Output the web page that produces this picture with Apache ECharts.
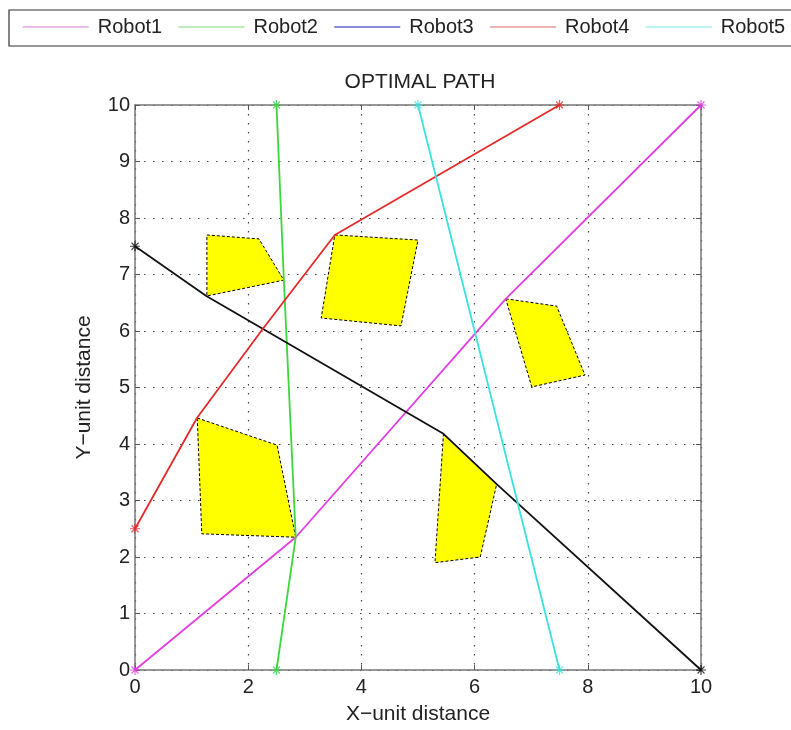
<!DOCTYPE html>
<html>
<head>
<meta charset="utf-8">
<script src="https://cdn.jsdelivr.net/npm/echarts@6/dist/echarts.min.js"></script>
<style>
  html, body { margin: 0; padding: 0; background: #fff; }
  #chart { width: 791px; height: 730px; }
</style>
</head>
<body>
<div id="chart"></div>
<script>
// Robot paths: waypoints [x, y] from start to goal
const robotNames = ['Robot1', 'Robot2', 'Robot3', 'Robot4', 'Robot5'];
const robot1Path = [[0, 0], [2.84, 2.35], [6.55, 6.57], [10, 10]];
const robot2Path = [[2.5, 10], [2.63, 6.9], [2.84, 2.35], [2.5, 0]];
const robot3Path = [[0, 7.5], [1.26, 6.62], [5.45, 4.18], [6.39, 3.29], [10, 0]];
const robot4Path = [[0, 2.5], [1.1, 4.47], [2.26, 6.04], [3.53, 7.7], [7.5, 10]];
const robot5Path = [[5, 10], [7.5, 0]];

// Obstacles: polygon vertices [x, y]
const obstacleA = [[1.27, 7.70], [2.19, 7.63], [2.63, 6.90], [1.27, 6.62]];
const obstacleB = [[3.53, 7.70], [5.0, 7.61], [4.70, 6.09], [3.29, 6.23]];
const obstacleC = [[6.55, 6.57], [7.45, 6.44], [7.95, 5.22], [7.01, 5.01]];
const obstacleD = [[1.10, 4.46], [2.51, 3.98], [2.84, 2.35], [1.18, 2.41]];
const obstacleE = [[5.45, 4.18], [6.39, 3.29], [6.10, 2.0], [5.30, 1.90]];

// Axis ticks
const xTicks = [0, 2, 4, 6, 8, 10];
const yTicks = [0, 1, 2, 3, 4, 5, 6, 7, 8, 9, 10];

const paths = [robot1Path, robot2Path, robot3Path, robot4Path, robot5Path];
const obstacles = [obstacleA, obstacleB, obstacleC, obstacleD, obstacleE];
const lineColors = ['#e23ee2', '#3ad83a', '#111111', '#e52a2a', '#3ee0e0'];
const legendColors = ['#e2a6e2', '#a6e6a6', '#6464cc', '#e89a9a', '#a6eeee'];

// Asterisk marker drawn as crossing thin bars
const asterisk = 'path://M4.4,0L5.6,0L5.6,10L4.4,10Z' +
  'M1.1,1.9L1.9,1.1L8.9,8.1L8.1,8.9Z' +
  'M8.1,1.1L8.9,1.9L1.9,8.9L1.1,8.1Z' +
  'M0,4.4L10,4.4L10,5.6L0,5.6Z';

const FONT = '"Liberation Sans", Arial, sans-serif';

const chart = echarts.init(document.getElementById('chart'), null, { renderer: 'canvas' });

const series = [];

series.push({
  type: 'custom',
  name: 'obstacles',
  z: 1,
  silent: true,
  data: obstacles.map(p => p[0]),
  encode: { x: 0, y: 1 },
  renderItem: function (params, api) {
    const pts = obstacles[params.dataIndex].map(p => api.coord(p));
    return {
      type: 'polygon',
      shape: { points: pts },
      style: { fill: '#ffff00', stroke: '#000', lineWidth: 1, lineDash: [3, 2] }
    };
  }
});

paths.forEach((path, i) => {
  series.push({
    type: 'line',
    name: robotNames[i],
    data: path,
    symbol: 'none',
    z: 3,
    lineStyle: { color: lineColors[i], width: 1.8 },
    itemStyle: { color: lineColors[i] },
    animation: false
  });
  series.push({
    type: 'scatter',
    name: robotNames[i] + ' endpoints',
    data: [path[0], path[path.length - 1]],
    symbol: asterisk,
    symbolSize: 10,
    z: 4,
    itemStyle: { color: lineColors[i] },
    silent: true,
    animation: false
  });
});

const xAxisBase = {
  type: 'value', min: 0, max: 10, interval: 2,
  axisLine: { show: true, onZero: false, lineStyle: { color: '#777', width: 1.5 } },
  axisTick: { show: true, inside: true, length: 5, lineStyle: { color: '#555' } },
  splitLine: { show: false }
};
const yAxisBase = {
  type: 'value', min: 0, max: 10, interval: 1,
  axisLine: { show: true, onZero: false, lineStyle: { color: '#777', width: 1.5 } },
  axisTick: { show: true, inside: true, length: 5, lineStyle: { color: '#555' } },
  splitLine: { show: false }
};

chart.setOption({
  animation: false,
  backgroundColor: '#fff',
  title: {
    text: 'OPTIMAL PATH',
    left: 420, top: 72, padding: 0,
    textAlign: 'center',
    textStyle: { fontFamily: FONT, fontSize: 21, fontWeight: 'normal', color: '#222' }
  },
  legend: {
    data: robotNames.map((n, i) => ({ name: n, lineStyle: { color: legendColors[i], width: 1.5 } })),
    left: 9, top: 10, width: 1000,
    padding: [7, 30, 9, 13],
    itemWidth: 66, itemHeight: 20, itemGap: 15.5,
    itemStyle: { opacity: 0 },
    borderColor: '#333', borderWidth: 1.2,
    textStyle: { fontFamily: FONT, fontSize: 20, color: '#222', padding: [0, 0, 0, 4] }
  },
  grid: { left: 135, right: 90, top: 105, bottom: 60 },
  xAxis: [
    Object.assign({}, xAxisBase, {
      position: 'bottom',
      name: 'X\u2212unit distance', nameLocation: 'middle', nameGap: 34,
      nameTextStyle: { fontFamily: FONT, fontSize: 21, color: '#222' },
      axisLabel: { margin: 7, fontFamily: FONT, fontSize: 20, color: '#222',
        formatter: v => xTicks.includes(v) ? String(v) : '' },
      splitLine: { show: true, lineStyle: { color: '#444', width: 1.2, type: [1.5, 7.5] } }
    }),
    Object.assign({}, xAxisBase, { position: 'top', axisLabel: { show: false } })
  ],
  yAxis: [
    Object.assign({}, yAxisBase, {
      position: 'left',
      name: 'Y\u2212unit distance', nameLocation: 'middle', nameGap: 40, nameRotate: 90,
      nameTextStyle: { fontFamily: FONT, fontSize: 21, color: '#222' },
      axisLabel: { margin: 5, fontFamily: FONT, fontSize: 20, color: '#222',
        formatter: v => yTicks.includes(v) ? String(v) : '' },
      splitLine: { show: true, lineStyle: { color: '#444', width: 1.2, type: [1.5, 7.5] } }
    }),
    Object.assign({}, yAxisBase, { position: 'right', axisLabel: { show: false } })
  ],
  series: series
});
</script>
</body>
</html>
